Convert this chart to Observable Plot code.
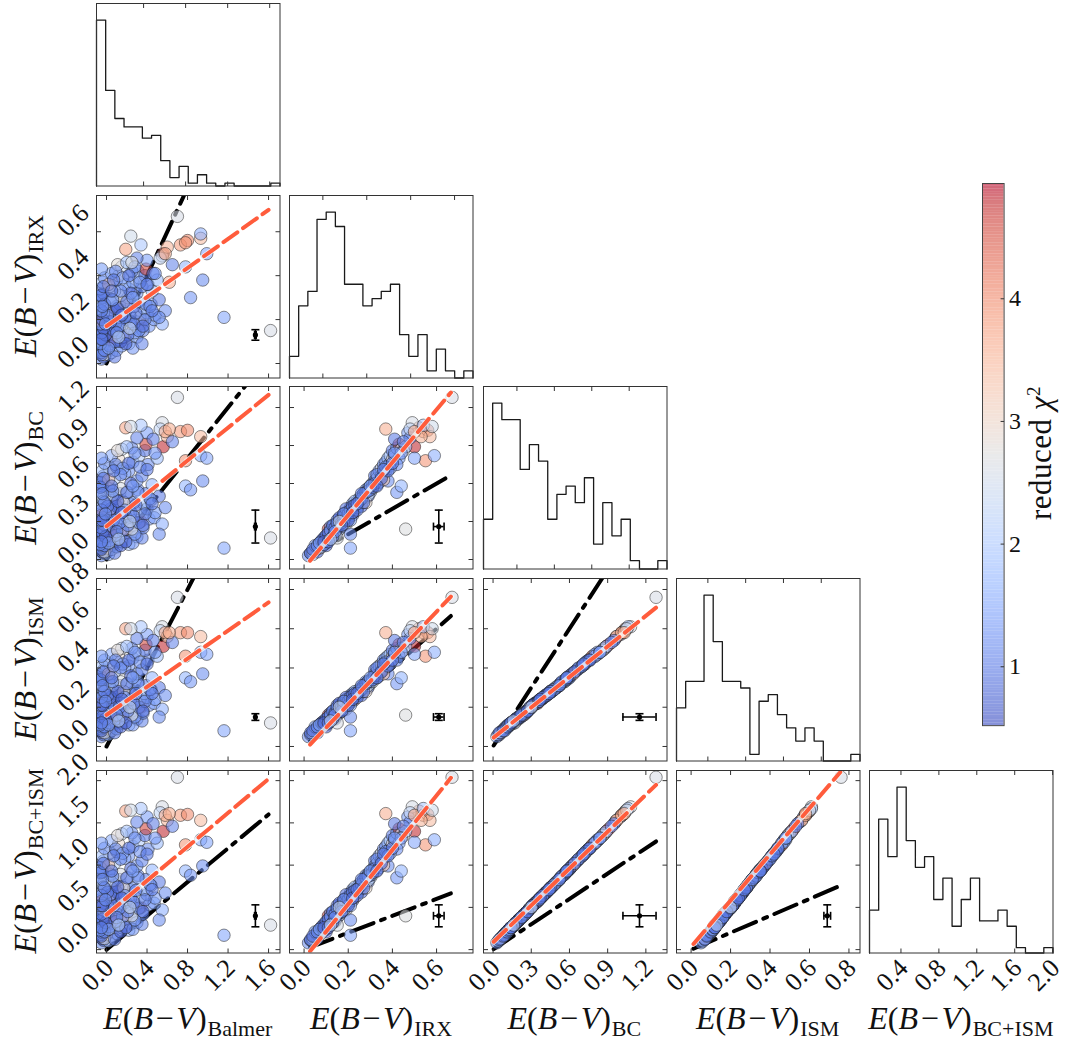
<!DOCTYPE html>
<html><head><meta charset="utf-8">
<script src="https://cdn.jsdelivr.net/npm/d3@7"></script>
<script src="https://cdn.jsdelivr.net/npm/@observablehq/plot@0.6"></script>
<style>
body{margin:0;background:#fff;}
#fig{position:relative;width:1070px;height:1044px;overflow:hidden;background:#fff;font-family:"Liberation Serif","DejaVu Serif",serif;color:#111;}
.lab{position:absolute;white-space:nowrap;font-size:32px;line-height:1;}
.lab .sub{font-size:22px;font-style:normal;position:relative;top:0.3em;margin-left:1px;}
</style></head><body><div id="fig"></div>
<script>
// ---------------- data ----------------
const balmer = [
 -0.05,-0.03,0.02,-0.06,0.05,-0.04,0.10,-0.02,0.00,-0.05, 0.15,0.03,-0.06,0.22,-0.03,0.07,-0.05,0.12,0.01,-0.04,
 0.30,-0.06,0.05,0.18,-0.02,-0.05,0.08,-0.04,0.26,-0.06, 0.04,-0.03,0.14,-0.05,0.35,
 -0.05,0.02,0.20,-0.04,0.11,0.34,-0.06,0.06,0.25,-0.02, 0.42,0.00,0.15,-0.05,0.09,0.29,-0.03,0.05,0.19,0.47,
 -0.06,0.12,0.33,-0.04,0.23,0.40,0.02,0.16,-0.05,0.37, 0.08,0.27,-0.02,0.44,0.13,-0.06,0.31,0.52,0.04,0.21,
 -0.04,0.36,0.48,0.58,-0.05,0.10,0.28,0.01,0.17,0.55, 0.39,-0.03,0.24,0.06,0.31,
 -0.05,0.14,0.30,-0.03,0.45,0.08,0.22,-0.06,0.35,0.03, 0.18,0.41,-0.04,0.19,0.26,0.10,0.50,-0.02,0.32,0.12,
 0.38,0.05,0.25,0.56,0.39,0.15,0.11,0.20,0.40,0.30, 0.55,0.53,0.73,0.80,0.93,0.78,0.93,0.99,0.78,0.83,
 0.95,0.60,0.58,0.46,-0.05,0.02,0.34,0.09,0.65,0.24, 0.16,0.28,0.62,
 0.70,1.16,1.62,0.25,0.52,
 -0.05,-0.02,0.03,-0.06,0.09,-0.04,0.16,-0.01,0.21,-0.05, 0.07,0.32,-0.03,0.13,0.27,-0.06,0.04,0.38,-0.04,0.18,
 0.01,0.29,-0.05,0.11,0.43,-0.02,0.20,0.06,-0.06,0.24, 0.14,-0.03,0.33,0.07,0.22,0.48,0.02,0.19,-0.05,0.10,
 0.36,-0.01,0.15,0.45,-0.04,0.26,0.05,0.40,0.12,0.23];
const irx = [
 0.02,0.03,0.04,0.05,0.05,0.06,0.06,0.07,0.07,0.08, 0.08,0.09,0.09,0.09,0.10,0.10,0.10,0.11,0.11,0.11,
 0.12,0.12,0.12,0.12,0.04,0.06,0.03,0.08,0.07,0.10, 0.11,0.12,0.10,0.05,0.09,
 0.13,0.13,0.14,0.14,0.15,0.18,0.15,0.16,0.16,0.16, 0.17,0.17,0.17,0.18,0.18,0.19,0.19,0.20,0.20,0.20,
 0.21,0.21,0.21,0.22,0.22,0.23,0.23,0.24,0.24,0.25, 0.25,0.26,0.26,0.27,0.27,0.28,0.28,0.29,0.29,0.30,
 0.30,0.15,0.22,0.24,0.19,0.26,0.14,0.21,0.28,0.18, 0.27,0.23,0.19,0.29,0.42,
 0.31,0.31,0.32,0.32,0.33,0.33,0.34,0.34,0.35,0.35, 0.36,0.36,0.37,0.52,0.37,0.38,0.38,0.39,0.39,0.40,
 0.40,0.41,0.42,0.50,0.43,0.44,0.45,0.46,0.47,0.48, 0.49,0.48,0.54,0.56,0.57,0.55,0.59,0.50,0.44,0.30,
 0.38,0.53,0.50,0.41,0.43,0.36,0.54,0.42,0.45,0.58, 0.39,0.44,0.37,
 0.67,0.21,0.15,0.46,0.21,
 0.04,0.06,0.08,0.09,0.10,0.11,0.12,0.13,0.13,0.14, 0.15,0.15,0.16,0.17,0.18,0.18,0.19,0.20,0.20,0.21,
 0.22,0.23,0.24,0.25,0.26,0.27,0.28,0.29,0.31,0.32, 0.33,0.35,0.37,0.38,0.40,0.41,0.07,0.09,0.11,0.14,
 0.17,0.18,0.22,0.24,0.26,0.30,0.33,0.36,0.12,0.16];
const bc = [
 0.03,0.05,0.04,0.07,0.08,0.06,0.10,0.12,0.09,0.11, 0.14,0.13,0.16,0.12,0.15,0.18,0.13,0.17,0.20,0.16,
 0.18,0.22,0.19,0.21,0.06,0.09,0.05,0.10,0.13,0.14, 0.24,0.26,0.11,0.11,0.17,
 0.20,0.26,0.24,0.19,0.28,0.30,0.22,0.30,0.27,0.24, 0.32,0.26,0.33,0.29,0.36,0.31,0.28,0.38,0.34,0.33,
 0.36,0.41,0.38,0.35,0.44,0.40,0.38,0.46,0.42,0.44, 0.48,0.45,0.50,0.47,0.52,0.49,0.55,0.50,0.56,0.53,
 0.58,0.25,0.37,0.41,0.35,0.42,0.20,0.31,0.45,0.28, 0.52,0.46,0.37,0.51,0.53,
 0.60,0.56,0.62,0.66,0.59,0.64,0.70,0.61,0.66,0.72, 0.68,0.75,0.70,1.04,0.77,0.73,0.80,0.76,0.82,0.79,
 0.86,0.82,0.88,0.89,0.91,0.87,0.86,0.89,1.00,0.96, 1.08,1.03,1.01,1.02,0.97,0.78,0.82,0.80,0.58,0.55,
 0.62,0.97,1.01,0.95,0.80,0.63,1.06,0.75,0.93,1.05, 0.72,0.84,1.03,
 1.28,0.09,0.17,0.24,0.20,
 0.08,0.11,0.15,0.12,0.19,0.21,0.23,0.18,0.27,0.25, 0.31,0.29,0.33,0.29,0.34,0.31,0.40,0.36,0.31,0.39,
 0.42,0.43,0.39,0.46,0.48,0.45,0.53,0.54,0.57,0.60, 0.67,0.64,0.73,0.70,0.76,0.84,0.13,0.14,0.14,0.22,
 0.27,0.36,0.37,0.44,0.52,0.58,0.58,0.71,0.16,0.30];
const ism = [
 0.05,0.06,0.06,0.08,0.08,0.07,0.09,0.10,0.09,0.10, 0.12,0.11,0.12,0.11,0.12,0.13,0.11,0.13,0.14,0.12,
 0.14,0.15,0.14,0.15,0.07,0.09,0.07,0.10,0.11,0.12, 0.16,0.17,0.10,0.10,0.13,
 0.15,0.18,0.17,0.14,0.19,0.20,0.16,0.20,0.18,0.17, 0.21,0.18,0.22,0.19,0.23,0.21,0.19,0.24,0.22,0.22,
 0.23,0.26,0.24,0.23,0.27,0.25,0.24,0.28,0.26,0.27, 0.29,0.28,0.30,0.29,0.31,0.30,0.33,0.30,0.33,0.32,
 0.34,0.17,0.24,0.26,0.22,0.26,0.15,0.21,0.28,0.19, 0.31,0.28,0.24,0.31,0.32,
 0.35,0.33,0.37,0.39,0.35,0.38,0.41,0.36,0.39,0.42, 0.40,0.44,0.41,0.60,0.45,0.43,0.46,0.44,0.47,0.46,
 0.49,0.47,0.50,0.51,0.52,0.50,0.49,0.51,0.57,0.55, 0.61,0.59,0.58,0.58,0.56,0.46,0.48,0.47,0.35,0.33,
 0.37,0.56,0.58,0.54,0.46,0.37,0.61,0.44,0.53,0.60, 0.42,0.48,0.58,
 0.76,0.08,0.12,0.16,0.15,
 0.08,0.10,0.12,0.11,0.14,0.15,0.16,0.14,0.18,0.17, 0.21,0.20,0.22,0.20,0.22,0.21,0.25,0.23,0.21,0.25,
 0.26,0.27,0.25,0.28,0.29,0.28,0.32,0.33,0.34,0.36, 0.40,0.38,0.43,0.41,0.44,0.48,0.11,0.12,0.12,0.16,
 0.18,0.23,0.24,0.27,0.31,0.35,0.35,0.42,0.13,0.20];
const bcism = [
 0.08,0.11,0.10,0.15,0.16,0.13,0.19,0.22,0.18,0.21, 0.26,0.24,0.28,0.23,0.27,0.31,0.24,0.30,0.34,0.28,
 0.32,0.37,0.33,0.36,0.13,0.18,0.12,0.20,0.24,0.26, 0.40,0.43,0.21,0.21,0.30,
 0.35,0.44,0.41,0.33,0.47,0.50,0.38,0.50,0.45,0.41, 0.53,0.44,0.55,0.48,0.59,0.52,0.47,0.62,0.56,0.55,
 0.59,0.67,0.62,0.58,0.71,0.65,0.62,0.74,0.68,0.71, 0.77,0.73,0.80,0.76,0.83,0.79,0.88,0.80,0.89,0.85,
 0.92,0.42,0.61,0.67,0.57,0.68,0.35,0.52,0.73,0.47, 0.83,0.74,0.61,0.82,0.85,
 0.95,0.89,0.99,1.05,0.94,1.02,1.11,0.97,1.05,1.14, 1.08,1.19,1.11,1.64,1.22,1.16,1.26,1.20,1.29,1.25,
 1.35,1.29,1.38,1.40,1.43,1.37,1.35,1.40,1.57,1.51, 1.69,1.62,1.59,1.60,1.53,1.24,1.30,1.27,0.93,0.88,
 0.99,1.53,1.59,1.49,1.26,1.00,1.67,1.19,1.46,1.65, 1.14,1.32,1.61,
 2.04,0.17,0.29,0.40,0.35,
 0.16,0.21,0.27,0.23,0.33,0.36,0.39,0.32,0.45,0.42, 0.52,0.49,0.55,0.49,0.56,0.52,0.65,0.59,0.52,0.64,
 0.68,0.70,0.64,0.74,0.77,0.73,0.85,0.87,0.91,0.96, 1.07,1.02,1.16,1.11,1.20,1.32,0.24,0.26,0.26,0.38,
 0.45,0.59,0.61,0.71,0.83,0.93,0.93,1.13,0.29,0.50];
const chi2 = [
 1.2,0.9,1.6,1.1,2.3,0.8,1.4,1.9,3.1,1.0, 1.5,2.6,1.3,1.8,0.7,1.2,4.2,1.7,2.1,1.1,
 1.4,0.9,3.6,1.6,2.7,1.5,1.0,2.0,1.3,1.8, 4.6,1.2,0.8,1.4,1.1,
 1.3,1.0,3.8,1.6,1.2,4.7,0.9,1.5,1.9,2.4, 1.3,1.0,1.7,1.4,1.1,1.6,2.8,1.2,0.9,1.5,
 1.8,1.3,2.2,1.0,1.4,1.1,3.3,1.6,1.2,1.9, 1.0,1.3,2.5,1.5,1.1,1.7,1.2,1.0,1.4,2.0,
 1.3,1.1,1.4,1.2,4.1,0.8,1.3,1.5,2.9,1.6, 1.0,1.9,1.2,2.3,1.3,
 1.2,2.6,1.4,1.0,1.7,2.2,1.3,1.5,1.1,2.7, 1.6,1.2,1.9,3.7,1.4,1.1,1.8,1.3,2.1,2.9,
 1.0,1.6,1.2,4.8,4.6,2.4,2.8,1.9,1.4,1.1, 2.6,2.3,3.8,4.0,3.4,3.9,1.6,1.5,1.7,1.3,
 1.2,3.5,3.6,1.0,1.4,3.3,2.0,1.2,1.1,2.5, 1.5,1.3,3.6,
 2.6,1.5,2.6,2.7,1.2,
 0.9,1.1,0.8,1.2,1.0,0.9,1.3,0.8,1.1,1.0, 0.9,1.2,0.8,1.1,1.0,1.3,0.9,1.1,0.8,1.2,
 1.0,0.9,1.1,0.8,1.3,1.0,0.9,1.2,1.0,0.8, 1.1,0.9,1.2,1.0,0.9,1.3,1.4,0.7,1.0,1.1,
 0.9,1.2,0.8,1.0,1.1,1.4,0.9,1.0,2.2,2.4];

// histogram heights (20 bins each, diagonal panels)
const histBalmer = [59,34,24,21,21,17,18,9,3,7,1,4,1,0,1,0,0,0,0,1];
const histIRX    = [3,10,12,22,23,21,13,13,10,11,12,13,6,3,6,1,4,1,0,1];
const histBC     = [6,20,18,18,12,15,13,6,9,10,8,11,3,8,4,6,1,0,0,1];
const histISM    = [8,12,12,25,18,12,12,11,1,9,10,7,5,3,5,3,0,0,0,1];
const histBCISM  = [8,25,18,31,21,16,18,10,14,5,10,14,6,6,8,5,1,0,0,1];

// variable names / subscripts
const varKeys = ["balmer","irx","bc","ism","bcism"];
const varSubs = ["Balmer","IRX","BC","ISM","BC+ISM"];
// axis domains and ticks
const varDomain = [[-0.099,1.713],[-0.066,0.765],[-0.075,1.366],[-0.074,0.856],[-0.04,2.12]];
const varTicks = [[0,0.4,0.8,1.2,1.6],[0,0.2,0.4,0.6],[0,0.3,0.6,0.9,1.2],[0,0.2,0.4,0.6,0.8],[0,0.5,1,1.5,2]];
const histDomain = [[-0.048,1.698],[-0.052,0.784],[-0.068,1.403],[-0.066,0.905],[0.068,2.004]];
const histTicks = [[0.4,0.8,1.2,1.6],[0.1,0.3,0.5,0.7],[0.2,0.5,0.8,1.1],[0.1,0.3,0.5,0.7],[0.4,0.8,1.2,1.6,2.0]];

// linear fits (red dashed) per panel [row][col]
const fitSlope = [[],[0.331],[0.648,2.082],[0.358,1.182,0.519],[1.004,3.218,1.456,2.733]];
const fitIntercept = [[],[0.17],[0.263,-0.066],[0.161,-0.022,0.043],[0.414,-0.107,0.086,0.034]];
const fitStart = [0.0,0.027,0.005,0.012];
const fitEnd = [1.6,0.665,1.28,0.756];

// typical error bar
const errAtX = [1.47,0.61,1.15,0.69,null];
const errAtY = [null,0.13,0.26,0.15,0.40];
const errSize = [0.008,0.024,0.13,0.017,0.13];

// colour bar
const chiDomain = [0.52,4.94];
const chiTicks = [1,2,3,4];

// ---------------- drawing ----------------
const coolwarmStops = ["#3b4cc0","#445acc","#4d68d7","#5775e1","#6282ea","#6c8ef1","#779af7","#82a5fb","#8db0fe","#98b9ff","#a3c2ff","#aec9fd","#b8d0f9","#c2d5f4","#ccd9ee","#d5dbe6","#dddddd","#e5d8d1","#ecd3c5","#f1ccb9","#f5c4ad","#f7bba0","#f7b194","#f7a687","#f49a7b","#f18d6f","#ec7f63","#e57058","#de604d","#d55042","#cb3e38","#c0282f","#b40426"];
const coolwarm = d3.piecewise(d3.interpolateRgb, coolwarmStops);
const colorOpts = {type:"linear", domain: chiDomain, interpolate: coolwarm, clamp: true};

const fig = document.getElementById("fig");
const FONT = "Liberation Serif";
const W = 183.5, H = 182.5;
const colLeft = [96, 289.3, 482.6, 675.9, 869.2];
const rowTop = [2.7, 194.5, 386.3, 578.1, 769.9];
const fmt1 = d3.format(".1f");

const gal = d3.range(chi2.length).map(i => ({balmer: balmer[i], irx: irx[i], bc: bc[i], ism: ism[i], bcism: bcism[i], chi2: chi2[i]}));

const seg = (dx, dy) => ({draw(ctx, size){ const r = Math.sqrt(size/Math.PI); ctx.moveTo(0,0); ctx.lineTo(dx*r, dy*r); }});
const capH = {draw(ctx, size){ const r = Math.sqrt(size/Math.PI); ctx.moveTo(-r,0); ctx.lineTo(r,0); }};
const capV = {draw(ctx, size){ const r = Math.sqrt(size/Math.PI); ctx.moveTo(0,-r); ctx.lineTo(0,r); }};
const TL = 4.5, TC = "#333";

function tickMarksX(ticks){
  return [
    Plot.dot(ticks, {x: d=>d, frameAnchor:"bottom", symbol: seg(0,-1), r: TL, stroke: TC, fill:"none", strokeWidth: 1}),
    Plot.dot(ticks, {x: d=>d, frameAnchor:"top", symbol: seg(0,1), r: TL, stroke: TC, fill:"none", strokeWidth: 1})
  ];
}
function tickMarksY(ticks){
  return [
    Plot.dot(ticks, {y: d=>d, frameAnchor:"left", symbol: seg(1,0), r: TL, stroke: TC, fill:"none", strokeWidth: 1}),
    Plot.dot(ticks, {y: d=>d, frameAnchor:"right", symbol: seg(-1,0), r: TL, stroke: TC, fill:"none", strokeWidth: 1})
  ];
}
function tickLabelsX(ticks){
  return Plot.text(ticks, {x: d=>d, text: d=>fmt1(d), frameAnchor:"bottom", dy: 28, dx: -3, rotate: -45, fontSize: 26, fontFamily: FONT, fill:"#111"});
}
function tickLabelsY(ticks){
  return Plot.text(ticks, {y: d=>d, text: d=>fmt1(d), frameAnchor:"left", dx: -35, rotate: -45, fontSize: 26, fontFamily: FONT, fill:"#111"});
}

function place(svg, left, top){
  svg.style.position = "absolute";
  svg.style.left = left + "px";
  svg.style.top = top + "px";
  svg.style.overflow = "visible";
  svg.style.background = "transparent";
  svg.style.maxWidth = "none";
  fig.appendChild(svg);
}

const hists = [histBalmer, histIRX, histBC, histISM, histBCISM];

// diagonal histograms
for (let i = 0; i < 5; i++) {
  const counts = hists[i];
  const [lo, hi] = histDomain[i];
  const w = (hi - lo) / counts.length;
  const pts = [{x: lo, y: 0}, ...counts.map((c, k) => ({x: lo + k*w, y: c})), {x: hi, y: counts[counts.length-1]}, {x: hi, y: 0}];
  const marks = [
    Plot.line(pts, {x:"x", y:"y", curve:"step-after", stroke:"#1a1a1a", strokeWidth: 1.3}),
    Plot.frame({stroke: TC, strokeWidth: 1}),
    ...tickMarksX(histTicks[i])
  ];
  if (i === 4) marks.push(tickLabelsX(histTicks[i]));
  const svg = Plot.plot({width: W, height: H, margin: 0,
    x: {domain: histDomain[i], axis: null},
    y: {domain: [0, 1.1*d3.max(counts)], axis: null},
    marks});
  place(svg, colLeft[i], rowTop[i]);
}

// scatter panels
for (let r = 1; r < 5; r++) {
  for (let c = 0; c < r; c++) {
    const xk = varKeys[c], yk = varKeys[r];
    const x0 = fitStart[c], x1 = fitEnd[c];
    const m = fitSlope[r][c], b = fitIntercept[r][c];
    const fitLine = [{x: x0, y: m*x0 + b}, {x: x1, y: m*x1 + b}];
    const oneLine = [{x: x0, y: x0}, {x: x1, y: x1}];
    const err = [{x: errAtX[c], y: errAtY[r], ex: errSize[c], ey: errSize[r]}];
    const marks = [
      Plot.line(oneLine, {x:"x", y:"y", stroke:"black", strokeWidth: 4, strokeDasharray:"24,8,4,8", clip: true}),
      Plot.dot(gal, {x: xk, y: yk, r: 6.2, fill: "chi2", fillOpacity: 0.58, stroke: "#1e1e1e", strokeOpacity: 0.5, strokeWidth: 1, clip: true}),
      Plot.line(fitLine, {x:"x", y:"y", stroke:"white", strokeWidth: 5.5, strokeOpacity: 0.75, clip: true}),
      Plot.line(fitLine, {x:"x", y:"y", stroke:"#ff5c3c", strokeWidth: 4, strokeDasharray:"17,7", clip: true}),
      Plot.ruleY(err, {y:"y", x1: d => d.x - d.ex, x2: d => d.x + d.ex, stroke:"black", strokeWidth: 1.6}),
      Plot.ruleX(err, {x:"x", y1: d => d.y - d.ey, y2: d => d.y + d.ey, stroke:"black", strokeWidth: 1.6}),
      Plot.dot(err, {x:"x", y: d => d.y - d.ey, symbol: capH, r: 4, stroke:"black", fill:"none", strokeWidth: 1.6}),
      Plot.dot(err, {x:"x", y: d => d.y + d.ey, symbol: capH, r: 4, stroke:"black", fill:"none", strokeWidth: 1.6}),
      Plot.dot(err, {x: d => d.x - d.ex, y:"y", symbol: capV, r: 4, stroke:"black", fill:"none", strokeWidth: 1.6}),
      Plot.dot(err, {x: d => d.x + d.ex, y:"y", symbol: capV, r: 4, stroke:"black", fill:"none", strokeWidth: 1.6}),
      Plot.dot(err, {x:"x", y:"y", r: 2.6, fill:"black"}),
      Plot.frame({stroke: TC, strokeWidth: 1}),
      ...tickMarksX(varTicks[c]),
      ...tickMarksY(varTicks[r])
    ];
    if (c === 0) marks.push(tickLabelsY(varTicks[r]));
    if (r === 4) marks.push(tickLabelsX(varTicks[c]));
    const svg = Plot.plot({width: W, height: H, margin: 0,
      x: {domain: varDomain[c], axis: null},
      y: {domain: varDomain[r], axis: null},
      color: colorOpts,
      marks});
    place(svg, colLeft[c], rowTop[r]);
  }
}

// colour bar
{
  const nb = 200, step = (chiDomain[1] - chiDomain[0]) / nb;
  const bands = d3.range(nb).map(i => chiDomain[0] + i*step);
  const svg = Plot.plot({width: 21.6, height: 542.3, margin: 0,
    y: {domain: chiDomain, axis: null},
    color: colorOpts,
    marks: [
      Plot.rect(bands, {y1: d => d, y2: d => d + step, fill: d => d + step/2, fillOpacity: 0.62}),
      Plot.frame({stroke: "#444", strokeWidth: 1}),
      Plot.dot(chiTicks, {y: d=>d, frameAnchor:"right", symbol: seg(-1,0), r: 3.5, stroke: "#333", fill:"none", strokeWidth: 1}),
      Plot.text(chiTicks, {y: d=>d, text: d=>String(d), frameAnchor:"right", dx: 5, textAnchor:"start", fontSize: 24, fontFamily: FONT, fill:"#111"})
    ]});
  place(svg, 981.7, 182.7);
}

// axis labels (HTML text, with subscripts)
function label(sub){ return `<i>E</i>(<i>B</i>\u200a\u2212\u200a<i>V</i>)<span class="sub">${sub}</span>`; }
for (let r = 1; r < 5; r++) {
  const d = document.createElement("div");
  d.className = "lab";
  d.innerHTML = label(varSubs[r]);
  d.style.left = "25px";
  d.style.top = (rowTop[r] + H/2) + "px";
  d.style.transform = "translate(-50%,-50%) rotate(-90deg)";
  fig.appendChild(d);
}
for (let c = 0; c < 5; c++) {
  const d = document.createElement("div");
  d.className = "lab";
  d.innerHTML = label(varSubs[c]);
  d.style.left = (colLeft[c] + W/2) + "px";
  d.style.top = "1018px";
  d.style.transform = "translate(-50%,-50%)";
  fig.appendChild(d);
}
{
  const d = document.createElement("div");
  d.className = "lab";
  d.style.fontSize = "31px";
  d.style.letterSpacing = "0.5px";
  d.innerHTML = `reduced <i>\u03c7</i><sup style="font-size:19px">2</sup>`;
  d.style.left = "1040px";
  d.style.top = "453px";
  d.style.transform = "translate(-50%,-50%) rotate(-90deg)";
  fig.appendChild(d);
}
</script></body></html>
